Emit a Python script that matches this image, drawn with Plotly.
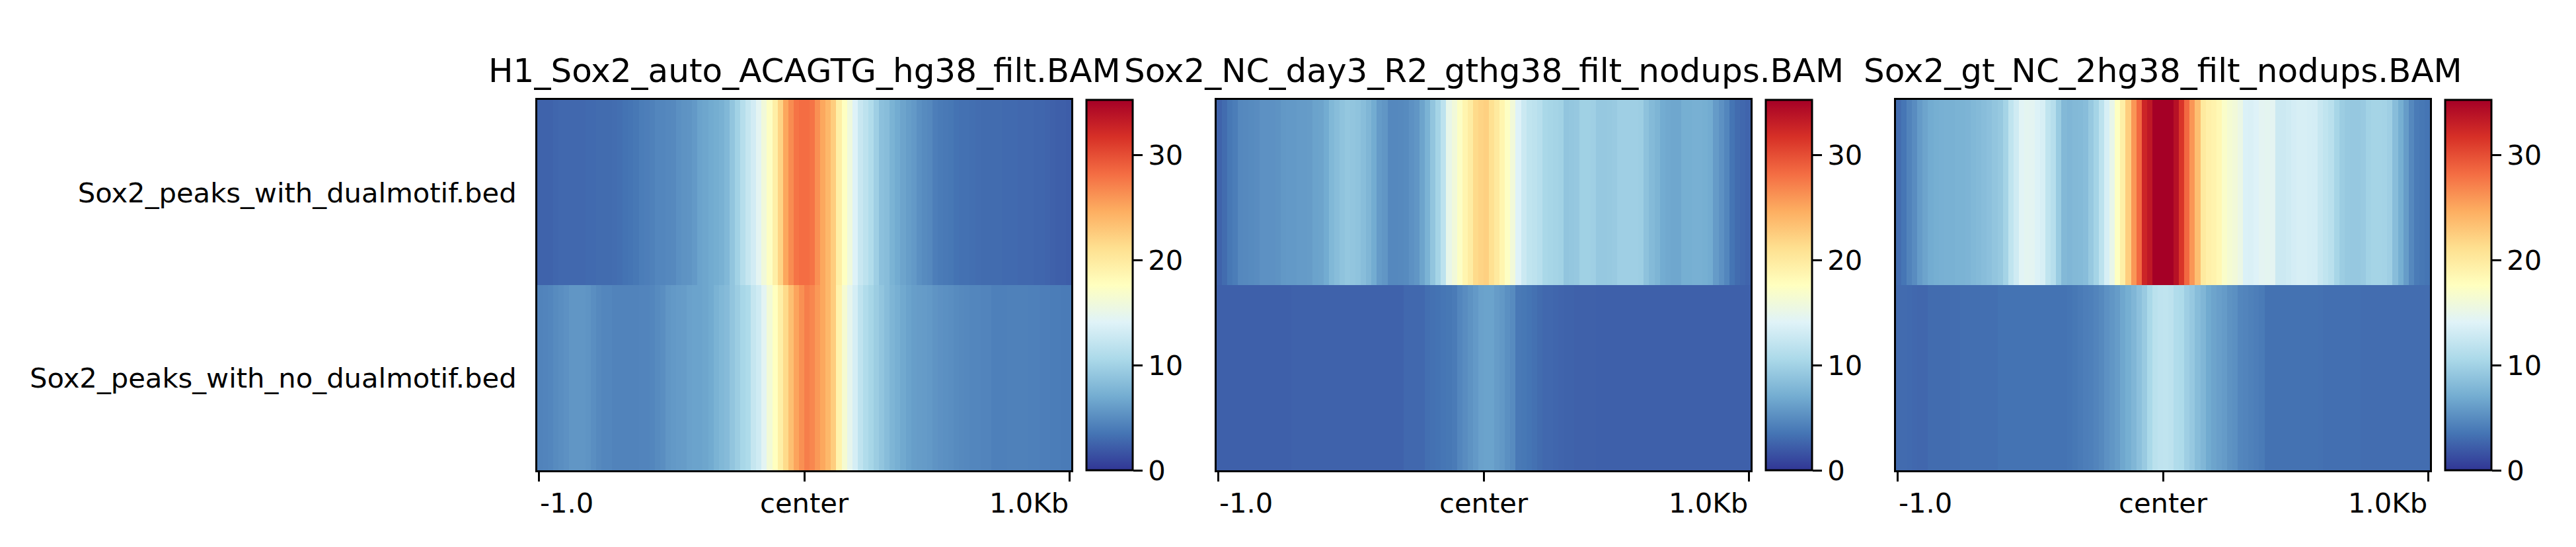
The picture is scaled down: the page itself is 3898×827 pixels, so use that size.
import numpy as np
import plotly.graph_objects as go

W, H = 3890, 819   # the page body adds an 8 px margin on the left and top
OFF = 8

sample_titles = ["H1_Sox2_auto_ACAGTG_hg38_filt.BAM",
                 "Sox2_NC_day3_R2_gthg38_filt_nodups.BAM",
                 "Sox2_gt_NC_2hg38_filt_nodups.BAM"]
region_labels = ["Sox2_peaks_with_no_dualmotif.bed", "Sox2_peaks_with_dualmotif.bed"]
colorbar_ticks = [0, 10, 20, 30]
x_tick_labels = ["-1.0", "center", "1.0Kb"]

rdylbu_r = ["#313695", "#4575b4", "#74add1", "#abd9e9", "#e0f3f8", "#ffffbf",
            "#fee090", "#fdae61", "#f46d43", "#d73027", "#a50026"]

h1_dual = [2.5,2.5,2.5,2.7,2.8,2.8,2.8,2.8,2.8,2.9,2.9,3.0,3.0,3.0,3.1,3.2,3.4,3.5,3.7,4.0,4.1,4.3,4.6,4.6,4.7,
           4.8,5.2,5.4,5.5,5.8,6.4,6.6,6.9,7.1,7.4,7.9,9.0,10,11.3,12.3,13.2,14.5,16,17.4,19.5,22,25,26.5,27.8,28.2,
           28.2,27.8,26.3,25,24,22.5,19.5,17.5,15.8,14,12.5,11.8,11,9.8,8.6,8.3,7.5,7,6.5,6.1,5.8,5.2,4.9,4.7,4.1,
           3.9,3.8,3.7,3.4,3.3,3.3,3.2,3.1,3.0,3.0,3.0,3.0,2.9,2.9,2.9,2.8,2.8,2.8,2.7,2.7,2.6,2.4,2.3,2.3,2.2]
h1_nodual = [4.4,4.5,4.6,4.9,5.1,5.3,5.6,5.6,5.6,5.5,5.1,4.8,4.6,4.6,4.4,4.4,4.4,4.4,4.4,4.5,4.5,4.6,4.9,5.1,5.6,
             5.8,5.9,6.0,6.3,6.4,6.4,6.6,6.9,7.5,7.9,8.2,9,9.6,10.4,10.8,12.3,13,14.4,16.2,17.6,19.5,21.5,23.5,25.2,26.3,
             27.3,26.8,25.8,25,24,22.5,19,16.5,14.8,13.4,11.9,11,10.3,9.6,9,8.3,7.7,7.3,6.8,6.4,6.1,6,5.9,5.8,5.5,
             5.3,5.2,5.1,4.9,4.8,4.7,4.6,4.6,4.5,4.5,4.2,4.2,4.2,4.3,4.3,4.3,4.3,4.2,4.2,4.1,4.1,4,4,3.9,3.9]
nc3_dual = [2.5,3.0,3.7,4.0,4.7,4.8,4.9,5.0,5.3,5.3,5.3,5.4,5.7,5.8,5.8,5.9,5.9,6.0,6.4,6.5,7.0,7.9,8.3,8.8,9.1,
            9.0,8.8,8.3,7.8,7.0,5.9,5.6,4.7,4.7,4.8,4.9,5.3,5.6,6.5,7.5,9,10.2,11.8,15,16,17.3,18.8,19.8,21.5,22,
            22.3,21,20,18.8,17.4,16,14,12.7,12,11.8,11.4,10.5,10.3,10.2,10,9,9.1,9.2,9.9,9.9,9.8,9.2,9.2,9.3,9.4,
            9.8,9.8,9.8,9.8,9.7,8.7,8.1,7.7,7,6.8,6.7,6.7,7.2,7.2,7.3,7.3,7.2,7,5.9,5.3,4.6,3.5,3,2.8,2.6]
nc3_nodual = [2.35,2.35,2.35,2.35,2.35,2.35,2.35,2.35,2.35,2.35,2.35,2.35,2.35,2.35,2.45,2.45,2.45,2.45,2.45,2.45,2.45,2.45,2.45,2.45,2.45,
              2.45,2.45,2.45,2.45,2.45,2.45,2.45,2.45,2.45,2.45,2.8,2.8,2.8,2.8,3.2,3.3,3.4,3.6,3.7,3.9,4.6,5,5.4,5.8,6.3,
              6.4,6.4,6.0,5.7,5.2,4.9,3.8,3.7,3.5,3.3,3.0,2.8,2.8,2.7,2.6,2.5,2.5,2.4,2.4,2.4,2.4,2.35,2.35,2.35,2.35,
              2.35,2.35,2.35,2.35,2.35,2.35,2.35,2.35,2.35,2.35,2.35,2.35,2.35,2.35,2.35,2.35,2.35,2.35,2.35,2.35,2.35,2.35,2.35,2.35,2.35]
nc2_dual = [3.1,3.6,4.4,5.0,5.9,6.5,7.0,7.2,7.3,7.4,7.4,7.5,7.5,7.6,7.9,8.1,8.3,8.6,9,9.3,10.2,12,13,14.3,14.6,
            14.5,13.9,13.5,12,11.3,9.5,8,7.8,8,8.1,8.3,9.3,10.2,11.8,13.5,15,17.5,19.5,22.5,26,28.5,32.5,33.5,36,38,
            38,36,34,31.5,28.5,26,23.5,20,19.3,19,18.4,17,16.4,16,15.3,13.8,13.7,14,14.5,14.6,14.5,12.8,12.8,13,13.3,
            13.5,13.5,13.4,13.3,12.5,12,11.5,10.3,9.6,9.3,9.2,9.2,9.4,10,10.2,10.2,10.1,9.8,8.3,7.2,6,4.7,3.9,3.7,3.5]
nc2_nodual = [2.95,2.95,2.9,2.8,2.75,2.75,3.0,3.0,3.0,3.0,3.1,3.1,3.2,3.2,3.2,3.2,3.2,3.2,3.2,3.4,3.4,3.4,3.4,3.4,3.4,
              3.4,3.4,3.4,3.4,3.4,3.4,3.4,3.5,3.7,3.9,4.1,4.2,4.5,4.8,5.3,5.6,6.0,6.7,7.2,7.8,8.6,9.4,10.6,11.6,11.9,
              12,11.8,11,10.8,9.8,9.2,8.3,7.8,6.9,6.5,6.2,5.9,5.4,5.2,4.6,4.5,4.3,4.1,3.9,3.35,3.35,3.35,3.35,3.35,3.35,
              3.35,3.35,3.35,3.35,3.3,3.2,3.2,3.2,3.2,3.2,3.2,3.2,3.1,3.1,3.1,3.1,3.1,3.1,3.1,3.1,3.1,3.1,3.1,3.1,3.1]

bin_centres = np.arange(-990, 1000, 20)
tick_positions = [-995, 0, 995]
panels = [(h1_nodual, h1_dual), (nc3_nodual, nc3_dual), (nc2_nodual, nc2_dual)]

FONT = "DejaVu Sans"
TITLE_PX, TICK_PX = 50, 41.7
Z_MAX = 35.25
PLOT_X = [(813 - OFF, 1621 - OFF), (1841 - OFF, 2649 - OFF), (2869 - OFF, 3677 - OFF)]
CBAR_X = [(1644 - OFF, 1714 - OFF), (2672 - OFF, 2742 - OFF), (3700 - OFF, 3770 - OFF)]
TOP, BOTTOM = 151 - OFF, 711 - OFF

fig = go.Figure()
axis_line = dict(showline=True, mirror=True, linecolor="black", linewidth=3)
annotations = []
for i, (rows, (x0, x1), (c0, c1), title) in enumerate(zip(panels, PLOT_X, CBAR_X, sample_titles)):
    suffix = "" if i == 0 else str(i + 1)
    fig.add_trace(go.Heatmap(
        x=bin_centres, y=region_labels, z=[rows[0], rows[1]],
        xaxis="x" + suffix, yaxis="y" + suffix,
        zmin=0, zmax=Z_MAX, colorscale=[[k / 10, c] for k, c in enumerate(rdylbu_r)],
        colorbar=dict(
            x=c0 / W, xanchor="left", xref="paper", xpad=0, ypad=0,
            y=1 - BOTTOM / H, yanchor="bottom", yref="paper",
            len=(BOTTOM - TOP) / H, lenmode="fraction",
            thickness=c1 - c0, thicknessmode="pixels",
            outlinecolor="black", outlinewidth=3,
            tickmode="array", tickvals=colorbar_ticks, ticks="outside",
            ticklen=14, tickwidth=3, tickcolor="black",
            tickfont=dict(family=FONT, size=TICK_PX, color="black"),
        ),
    ))
    fig.update_layout({
        "xaxis" + suffix: dict(
            domain=[x0 / W, x1 / W], range=[-1000, 1000], anchor="y" + suffix,
            tickmode="array", tickvals=tick_positions, ticktext=["", "", ""],
            ticks="outside", ticklen=14, tickwidth=3, tickcolor="black",
            showgrid=False, zeroline=False, **axis_line),
        "yaxis" + suffix: dict(
            domain=[1 - BOTTOM / H, 1 - TOP / H], anchor="x" + suffix, type="category",
            showticklabels=i == 0, ticks="", ticklabelstandoff=20,
            tickfont=dict(family=FONT, size=TICK_PX, color="black"),
            showgrid=False, zeroline=False, **axis_line),
    })
    annotations.append(dict(
        text=title, xref="paper", yref="paper", x=(x0 + x1) / 2 / W, y=1 - (138 - OFF) / H,
        xanchor="center", yanchor="bottom", showarrow=False,
        font=dict(family=FONT, size=TITLE_PX, color="black")))
    for pos, label, anchor in zip(tick_positions, x_tick_labels, ["left", "center", "right"]):
        annotations.append(dict(
            text=label, xref="x" + suffix, yref="paper", x=pos, y=1 - (734 - OFF) / H,
            xanchor=anchor, yanchor="top", showarrow=False,
            font=dict(family=FONT, size=TICK_PX, color="black")))

fig.update_layout(width=W, height=H, margin=dict(l=0, r=0, t=0, b=0),
                  paper_bgcolor="white", plot_bgcolor="white",
                  annotations=annotations, showlegend=False)
fig.write_html("out.html")
